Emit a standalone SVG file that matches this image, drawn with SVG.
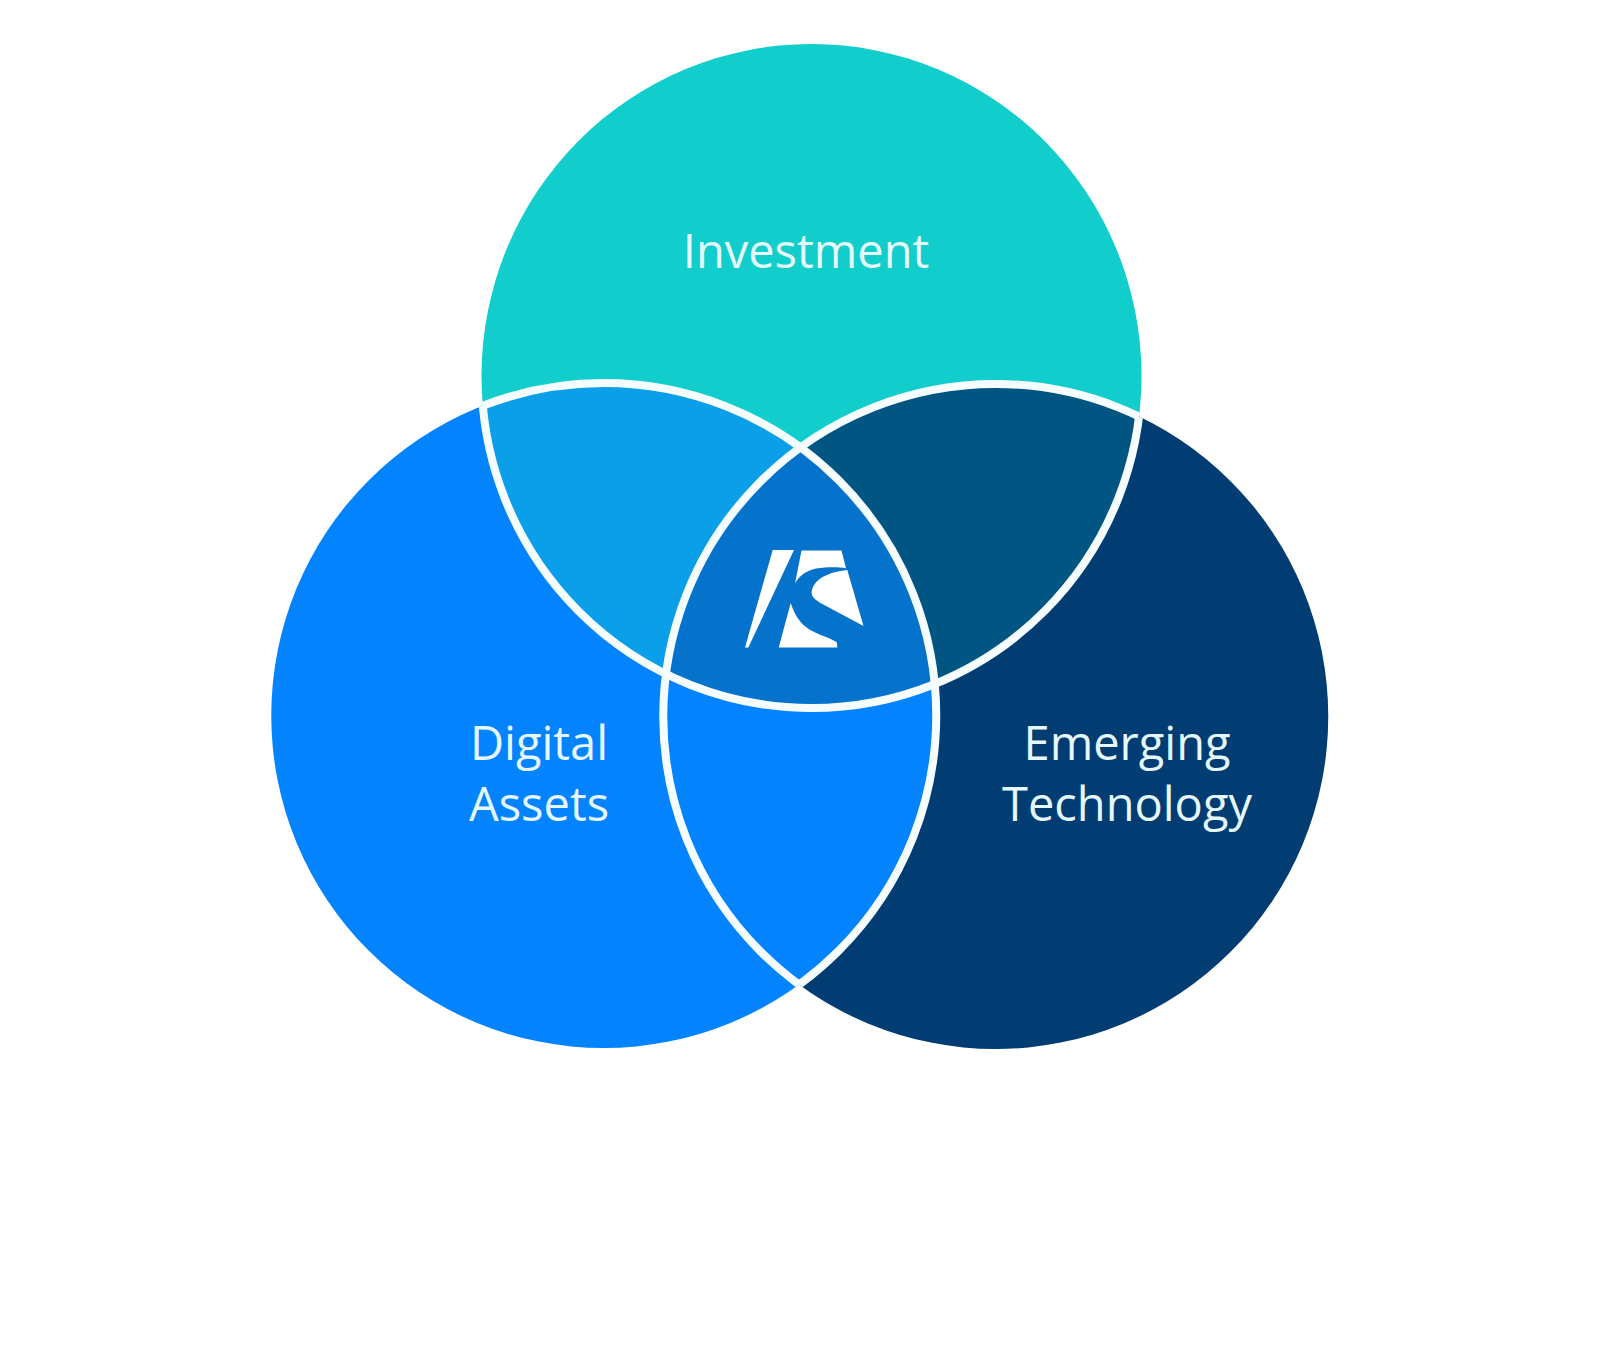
<svg xmlns="http://www.w3.org/2000/svg" width="1600" height="1346" viewBox="0 0 1600 1346">
<style>
.lbl{font-family:"Open Sans","Noto Sans",sans-serif;font-size:47px;fill:#e6f8fb;text-anchor:middle}
.ring{fill:none;stroke:#f6fdff;stroke-width:8}
.logo{fill:#fff}
</style>
<defs>
<ellipse id="ct" cx="811.5" cy="376" rx="330" ry="332"/>
<circle id="cl" cx="603.75" cy="715.5" r="332.5"/>
<circle id="cr" cx="995.75" cy="716.5" r="332.5"/>
<clipPath id="inT"><use href="#ct"/></clipPath>
<clipPath id="inL"><use href="#cl"/></clipPath>
<clipPath id="inR"><use href="#cr"/></clipPath>
<clipPath id="notL"><use href="#ct"/><use href="#cr"/></clipPath>
<clipPath id="notR"><use href="#ct"/><use href="#cl"/></clipPath>
<clipPath id="notT"><use href="#cl"/><use href="#cr"/></clipPath>
</defs>
<rect width="1600" height="1346" fill="#fff"/>
<g id="investment">
<use href="#ct" fill="#11cdcc"/>
<text class="lbl" x="806" y="268">Investment</text>
</g>
<g id="digital-assets">
<use href="#cl" fill="#0384fe"/>
<text class="lbl" x="539" y="760">Digital</text>
<text class="lbl" x="539" y="821">Assets</text>
</g>
<g id="emerging-technology">
<use href="#cr" fill="#013c73"/>
<text class="lbl" x="1127" y="760">Emerging</text>
<text class="lbl" x="1127" y="821">Technology</text>
</g>
<g id="overlaps">
<use href="#ct" fill="#0a9fe8" clip-path="url(#inL)"/>
<use href="#ct" fill="#015583" clip-path="url(#inR)"/>
<use href="#cl" fill="#0384fe" clip-path="url(#inR)"/>
<g clip-path="url(#inR)"><use href="#ct" fill="#0573cc" clip-path="url(#inL)"/></g>
</g>
<g id="connectors">
<use href="#ct" class="ring" clip-path="url(#notT)"/>
<use href="#cl" class="ring" clip-path="url(#notL)"/>
<use href="#cr" class="ring" clip-path="url(#notR)"/>
</g>
<g id="logo" class="logo">
<path d="M772.7 550H794L748.3 647.5H745Z"/>
<path d="M801.5 550.5H841.5L846 568.3C838 567 827 567 816 568.5C806 570.5 799 576 795 583.5Z"/>
<path d="M847.3 570L863.5 626L820 602.7C814 599 811 596 811.7 591C813 584 819 578 827 575C833 572 840 571 847.3 570Z"/>
<path d="M790.7 603C794 613 799 622 806 627C815 634 826 636 836.7 642L837.3 647.5H778.7Z"/>
</g>
</svg>
